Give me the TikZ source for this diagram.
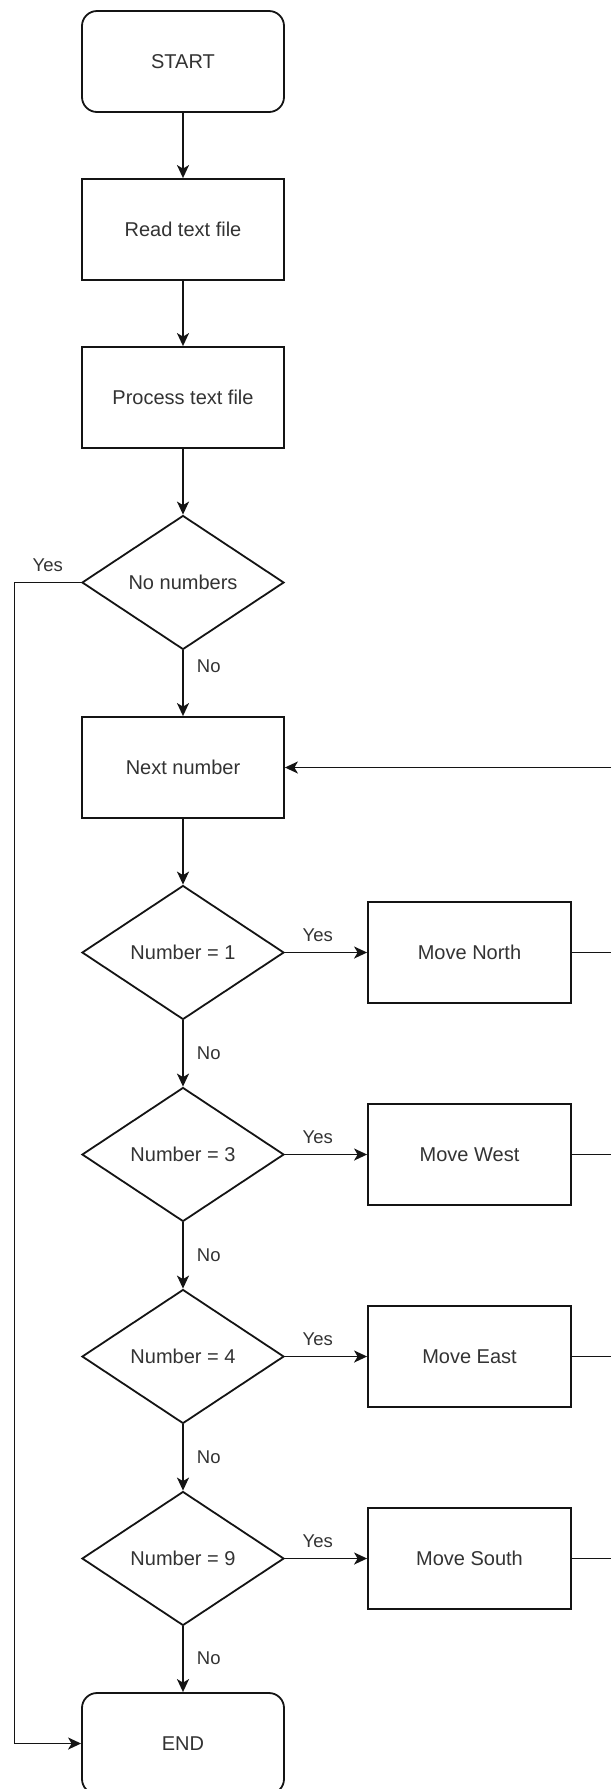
\documentclass[tikz,border=0pt]{standalone}
\usepackage{fontspec}
\setmainfont{Liberation Sans}
\usetikzlibrary{shapes.geometric,arrows.meta}

\definecolor{inkline}{RGB}{20,20,20}
\definecolor{inktext}{RGB}{51,51,51}

\tikzset{
  boxbase/.style={draw=inkline, line width=1.8pt, fill=white, text=inktext,
    font=\fontsize{20}{24}\selectfont, inner sep=0pt, align=center},
  term/.style={boxbase, rounded corners=15pt, minimum width=202pt, minimum height=101pt},
  proc/.style={boxbase, minimum width=202pt, minimum height=101pt},
  movebox/.style={boxbase, minimum width=203pt, minimum height=101pt},
  decide/.style={boxbase, diamond, minimum width=202pt, minimum height=134pt},
  link/.style={draw=inkline, line width=1.8pt},
  flow/.style={link, -{Stealth[length=13pt, width=12pt, inset=3.5pt]}},
  lbl/.style={text=inktext, font=\fontsize{18.5}{22}\selectfont, inner sep=0pt}
}

\begin{document}
\begin{tikzpicture}[x=1pt, y=-1pt]
  \useasboundingbox (0,0) rectangle (611,1789);

  % main column
  \node[term]   (start) at (183,61.5)   {START};
  \node[proc]   (read)  at (183,229.5)  {Read text file};
  \node[proc]   (prep)  at (183,397.5)  {Process text file};
  \node[decide] (none)  at (183,582.5)  {No numbers};
  \node[proc]   (next)  at (183,767.5)  {Next number};
  \node[decide] (isone) at (183,952.5)  {Number = 1};
  \node[decide] (isthr) at (183,1154.5) {Number = 3};
  \node[decide] (isfou) at (183,1356.5) {Number = 4};
  \node[decide] (isnin) at (183,1558.5) {Number = 9};
  \node[term]   (stop)  at (183,1743.5) {END};

  % moves
  \node[movebox] (north) at (469.5,952.5)  {Move North};
  \node[movebox] (west)  at (469.5,1154.5) {Move West};
  \node[movebox] (east)  at (469.5,1356.5) {Move East};
  \node[movebox] (south) at (469.5,1558.5) {Move South};

  % loop-back rail on the right and bypass rail on the left
  \coordinate (railL)  at (14.4,582.5);
  \coordinate (railNx) at (611,767.5);
  \coordinate (railN)  at (611,952.5);
  \coordinate (railW)  at (611,1154.5);
  \coordinate (railE)  at (611,1356.5);
  \coordinate (railS)  at (611,1558.5);

  % straight-down flow
  \draw[flow] (start) -- (read);
  \draw[flow] (read) -- (prep);
  \draw[flow] (prep) -- (none);
  \draw[flow] (none) -- node[lbl, pos=0.24, anchor=west, xshift=13pt] {No} (next);
  \draw[flow] (next) -- (isone);
  \draw[flow] (isone) -- node[lbl, pos=0.49, anchor=west, xshift=13pt] {No} (isthr);
  \draw[flow] (isthr) -- node[lbl, pos=0.49, anchor=west, xshift=13pt] {No} (isfou);
  \draw[flow] (isfou) -- node[lbl, pos=0.49, anchor=west, xshift=13pt] {No} (isnin);
  \draw[flow] (isnin) -- node[lbl, pos=0.49, anchor=west, xshift=13pt] {No} (stop);

  % no numbers left: straight to END
  \draw[link] (none.west) -- node[lbl, pos=0.5, yshift=17.5pt] {Yes} (railL);
  \draw[flow] (railL) |- (stop.west);

  % yes branches
  \draw[flow] (isone.east) -- node[lbl, pos=0.4, yshift=17.5pt] {Yes} (north.west);
  \draw[flow] (isthr.east) -- node[lbl, pos=0.4, yshift=17.5pt] {Yes} (west.west);
  \draw[flow] (isfou.east) -- node[lbl, pos=0.4, yshift=17.5pt] {Yes} (east.west);
  \draw[flow] (isnin.east) -- node[lbl, pos=0.4, yshift=17.5pt] {Yes} (south.west);

  % back to the next number
  \draw[link] (north.east) -- (railN);
  \draw[link] (west.east)  -- (railW);
  \draw[link] (east.east)  -- (railE);
  \draw[link] (south.east) -- (railS);
  \draw[flow] (railNx) -- (next.east);
\end{tikzpicture}
\end{document}
